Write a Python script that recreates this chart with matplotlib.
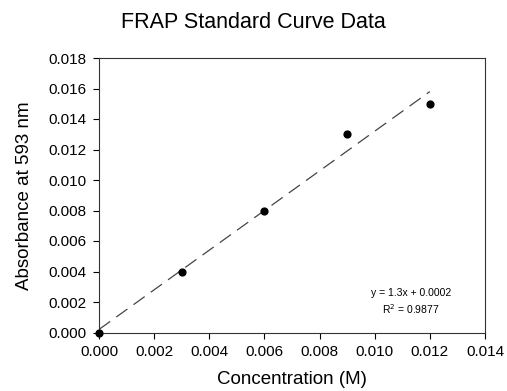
import matplotlib
matplotlib.use("Agg")
import matplotlib.pyplot as plt
import numpy as np

plt.rcParams['font.family'] = ['Liberation Sans', 'DejaVu Sans']

conc = [0.0, 0.003, 0.006, 0.009, 0.012]
absorb = [0.0, 0.004, 0.008, 0.013, 0.015]
slope = 1.3
intercept = 0.0002
xticks = [0.000, 0.002, 0.004, 0.006, 0.008, 0.010, 0.012, 0.014]
yticks = [0.000, 0.002, 0.004, 0.006, 0.008, 0.010, 0.012, 0.014, 0.016, 0.018]

fig = plt.figure(figsize=(5.07, 3.91), dpi=100)
ax = fig.add_axes([99/507, 1 - 332.5/391, (485-99)/507, (332.5-58)/391])

fx = np.array([conc[0], conc[-1]])
ax.plot(fx, slope*fx + intercept, color='#444444', lw=0.9, dashes=(11, 6))
ax.scatter(conc, absorb, s=24, color='black', zorder=3, clip_on=False)

ax.set_xlim(0, 0.014)
ax.set_ylim(0, 0.018)
ax.set_xticks(xticks)
ax.set_yticks(yticks)
ax.set_xticklabels([f"{v:.3f}" for v in xticks])
ax.set_yticklabels([f"{v:.3f}" for v in yticks])
ax.tick_params(direction='out', length=4, width=0.8, labelsize=11, colors='black', pad=5)
for s in ax.spines.values():
    s.set_linewidth(0.8)
    s.set_color('#333333')

ax.set_xlabel('Concentration (M)', fontsize=13.5, labelpad=9)
ax.set_ylabel('Absorbance at 593 nm', fontsize=13.5, labelpad=11)
fig.text(0.5, 1 - 22/391, 'FRAP Standard Curve Data', fontsize=15.5, ha='center', va='center')

ax.text(0.01132, 0.00259, 'y = 1.3x + 0.0002', fontsize=7.5, ha='center', va='center')
ax.text(0.01132, 0.00154, 'R$^2$ = 0.9877', fontsize=7.5, ha='center', va='center')

fig.savefig('out.png', dpi=100)
